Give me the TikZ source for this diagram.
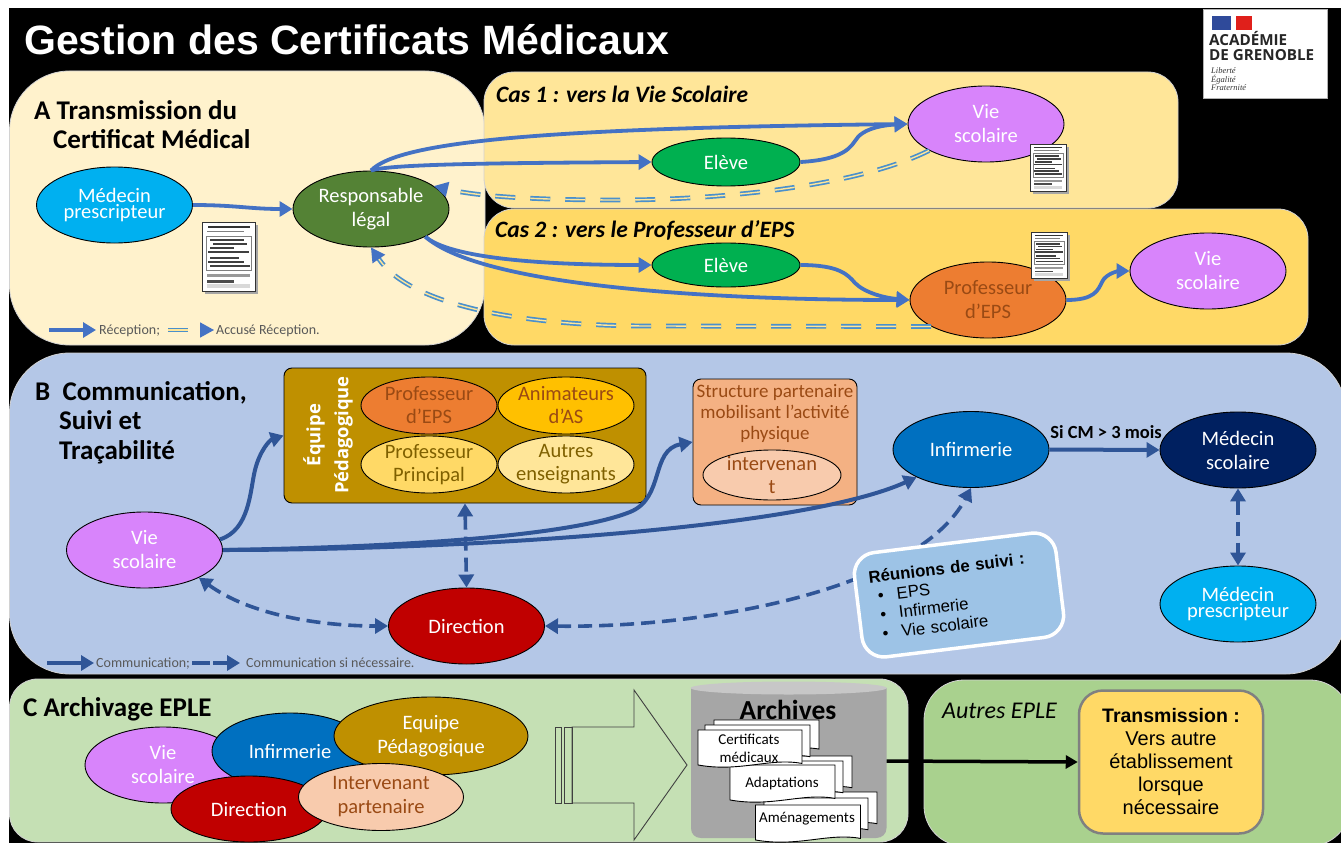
\documentclass[tikz,border=0pt]{standalone}
\usepackage{fontspec}
\setmainfont{Carlito}
\newfontfamily\arialf{Liberation Sans}
\newfontfamily\opensf{Open Sans}
\newfontfamily\serf{Liberation Serif}
\usetikzlibrary{arrows.meta,shapes.geometric}
\definecolor{cA}{HTML}{FFF2CC}
\definecolor{cCasA}{HTML}{FFE699}
\definecolor{cCasB}{HTML}{FFD966}
\definecolor{cB}{HTML}{B4C7E7}
\definecolor{cC}{HTML}{C5E0B4}
\definecolor{cD}{HTML}{A9D18E}
\definecolor{vie}{HTML}{D884FB}
\definecolor{ciel}{HTML}{00B0F0}
\definecolor{resp}{HTML}{548235}
\definecolor{elev}{HTML}{00B050}
\definecolor{oran}{HTML}{ED7D31}
\definecolor{ocre}{HTML}{BF9000}
\definecolor{ambre}{HTML}{FFC000}
\definecolor{bleu}{HTML}{0070C0}
\definecolor{nuit}{HTML}{002060}
\definecolor{rouge}{HTML}{C00000}
\definecolor{sau}{HTML}{F4B183}
\definecolor{sauc}{HTML}{F8CBAD}
\definecolor{lignA}{HTML}{4472C4}
\definecolor{lignD}{HTML}{4A90CC}
\definecolor{lignB}{HTML}{2F5597}
\definecolor{brun}{HTML}{9A4A14}
\definecolor{brunb}{HTML}{7F6000}
\definecolor{reun}{HTML}{9DC3E6}
\definecolor{flagb}{HTML}{2F4A9A}
\definecolor{flagr}{HTML}{E0201B}
\tikzset{
 panel/.style={draw=gray!35,line width=.8pt},
 bub/.style={ellipse,draw=black,line width=.9pt,inner sep=-15pt,align=center,minimum width=156pt,minimum height=76pt,text=white,font=\fontsize{20.5}{24}\selectfont},
 tight/.style={font=\fontsize{20.5}{16}\selectfont},
 small/.style={minimum width=136pt,minimum height=57pt,font=\fontsize{20.5}{23}\selectfont},
 head/.style={anchor=base west,font=\fontsize{27}{30}\selectfont\bfseries,inner sep=0pt},
 cas/.style={anchor=base west,font=\fontsize{23.5}{26}\selectfont\bfseries\itshape,inner sep=0pt},
 leg/.style={anchor=base west,inner sep=0pt,text=black!65,font=\fontsize{14}{16}\selectfont},
 recv/.style={draw=lignA,line width=3.8pt,-{Triangle[length=13pt,width=15pt]}},
 ack/.style={draw=lignD,line width=1.7pt,double=cCasA,double distance=1.4pt,dash pattern=on 20pt off 15pt,-{Triangle[length=14pt,width=15pt,color=lignA]}},
 com/.style={draw=lignB,line width=4pt,-{Triangle[length=13pt,width=15pt]}},
 comd/.style={draw=lignB,line width=3.6pt,dash pattern=on 14pt off 7pt,{Triangle[length=13pt,width=15pt]}-{Triangle[length=13pt,width=15pt]}},
 sheettxt/.style={inner sep=0pt,align=center,text=black,font=\fontsize{15}{18}\selectfont},
 lgtxt/.style={anchor=base west,inner sep=0pt,font=\fontsize{15.2}{16}\selectfont\opensf\bfseries,text=black!85},
 lgdev/.style={anchor=base west,inner sep=0pt,font=\fontsize{8.5}{9}\selectfont\serf\itshape,text=black!80},
}
\newcommand\thumbdoc[4]{%
 \fill[black!35] (#1+2.5,#2+2.5) rectangle (#1+#3+2.5,#2+#4+2.5);
 \begin{scope}[shift={(#1,#2)},x=#3pt,y=-#4pt]
  \draw[fill=white,draw=black!80,line width=1pt] (0,0) rectangle (1,1);
  \fill[black!80] (.12,.06) rectangle (.9,.09);
  \fill[black!50] (.1,.13) rectangle (.8,.15);
  \draw[black!50,line width=.5pt] (.08,.2) rectangle (.92,.7);
  \foreach \yy/\xa/\xb in {.24/.15/.8,.3/.2/.85,.36/.15/.6,.42/.12/.88,.5/.15/.7,.56/.12/.8,.62/.15/.9}{
    \fill[black!75] (\xa,\yy) rectangle (\xb,\yy+.035);}
  \fill[black!40] (.1,.76) rectangle (.9,.8);
  \fill[black!70] (.1,.84) rectangle (.6,.88);
  \fill[black!15] (.1,.9) rectangle (.9,.96);
 \end{scope}}
\newcommand\sheet[4]{%
 \begin{scope}[shift={(#1,#2)},x=#3pt,y=-#4pt]
  \draw[fill=white,draw=black,line width=.9pt] (0,0) -- (1,0) -- (1,.88) .. controls (.7,.72) and (.4,1.12) .. (0,.92) -- cycle;
 \end{scope}}
\begin{document}
\begin{tikzpicture}[x=1pt,y=-1pt]
\useasboundingbox (0,0) rectangle (1341,843);
\fill[white] (0,0) rectangle (1341,843);
\fill[black] (8.5,8) rectangle (1341,843);
% panels
\draw[panel,fill=cA,rounded corners=60pt] (9.5,71) rectangle (485,345);
\draw[panel,fill=cCasA,rounded corners=30pt] (484,72) rectangle (1178,208);
\draw[panel,fill=cCasB,rounded corners=30pt] (484,209) rectangle (1308,345);
\draw[panel,fill=cB,rounded corners=60pt] (9.5,353) rectangle (1346,674);
\draw[panel,fill=cC,rounded corners=28pt] (9.5,679) rectangle (908,842);
\draw[panel,fill=cD,rounded corners=40pt] (924,680) rectangle (1350,846);
% title
\node[anchor=base west,inner sep=0pt,text=white,font=\fontsize{41}{44}\selectfont\arialf\bfseries] (titre) at (24,55) {Gestion des Certificats Médicaux};
% logo
\node[draw=gray!60,fill=white,minimum width=124pt,minimum height=89pt,inner sep=0pt] (logo) at (1265,54) {};
\fill[flagb] (1212,16) rectangle (1231,30);
\fill[flagr] (1236,16) rectangle (1252,30);
\node[lgtxt] (lgA) at (1209,46) {ACADÉMIE};
\node[lgtxt] (lgB) at (1209,60) {DE GRENOBLE};
\node[lgdev] (lgC) at (1211,74) {Liberté};
\node[lgdev] (lgD) at (1211,82) {Égalité};
\node[lgdev] (lgE) at (1211,91) {Fraternité};
% headings
\node[head] (hA1) at (34,119) {A Transmission du};
\node[head] (hA2) at (53,148) {Certificat Médical};
\node[cas] (cas1) at (496,102) {Cas 1 : vers la Vie Scolaire};
\node[cas] (cas2) at (495,237) {Cas 2 : vers le Professeur d’EPS};
\node[head] (hB1) at (35,400) {B\ \ Communication,};
\node[head] (hB2) at (59,429) {Suivi et};
\node[head] (hB3) at (59,459) {Traçabilité};
\node[head] (hC) at (23,716) {C Archivage EPLE};
\node[anchor=base west,inner sep=0pt,font=\fontsize{24}{26}\selectfont\itshape] (autres) at (942,718) {Autres EPLE};
% section A nodes
\node[bub,tight,fill=ciel] (medA) at (114.5,205) {Médecin\\prescripteur};
\node[bub,fill=resp] (resp) at (371,209) {Responsable\\légal};
\node[bub,fill=elev,minimum width=148pt,minimum height=48pt] (eleA) at (726,162) {Elève};
\node[bub,fill=vie] (vieA) at (986,124) {Vie\\scolaire};
\node[bub,fill=elev,minimum width=148pt,minimum height=44pt] (eleB) at (726,265) {Elève};
\node[bub,fill=oran,text=brun] (proA) at (988,300) {Professeur\\d’EPS};
\node[bub,fill=vie] (vieB) at (1208,271) {Vie\\scolaire};
% section A connectors
\coordinate (mA) at (855,141);
\coordinate (mB) at (855,283);
\coordinate (mC) at (1102,282);
\coordinate (mD) at (650,326);
\draw[recv] (medA.east) .. controls (235,205) and (250,209) .. (resp.west);
\draw[recv] (resp.north) .. controls (400,140) and (560,128) .. (vieA.west);
\draw[recv] (resp.north) .. controls (390,164) and (500,163) .. (eleA.west);
\draw[recv] (eleA.east) .. controls (835,160) and (848,152) .. (mA) .. controls (862,128) and (885,125) .. (vieA.west);
\draw[ack] (vieA.205) .. controls (850,190) and (700,200) .. (620,200) .. controls (540,200) and (480,197) .. (resp.20);
\draw[recv] (resp.333) .. controls (450,258) and (540,265) .. (eleB.west);
\draw[recv] (resp.333) .. controls (480,285) and (700,300) .. (proA.west);
\draw[recv] (eleB.east) .. controls (840,265) and (848,275) .. (mB) .. controls (865,293) and (885,298) .. (proA.west);
\draw[recv] (proA.east) .. controls (1095,300) and (1098,290) .. (mC) .. controls (1106,273) and (1120,271) .. (vieB.west);
\draw[ack] (proA.205) -- (mD) .. controls (520,326) and (410,305) .. (resp.south);
\thumbdoc{202}{222}{53}{69}
\thumbdoc{1030}{144}{36}{47}
\thumbdoc{1031}{232}{36}{46}
% legend A
\coordinate (lA1) at (49,330); \coordinate (lA2) at (96,330);
\coordinate (lA3) at (168,330); \coordinate (lA4) at (214,330);
\draw[recv,line width=4pt] (lA1) -- (lA2);
\node[leg] (tA1) at (99,334) {Réception;};
\draw[ack,dash pattern=on 20pt off 14pt] (lA3) -- (lA4);
\node[leg] (tA2) at (216,334) {Accusé Réception.};
% section B nodes
\node[draw=black,line width=.9pt,fill=ocre,rounded corners=8pt,minimum width=362pt,minimum height=135pt,inner sep=0pt] (equipe) at (465,435.5) {};
\node[rotate=90,align=center,inner sep=0pt,text=white,font=\fontsize{18.4}{28}\selectfont\opensf\bfseries] (eqt) at (328,435) {Équipe\\Pédagogique};
\node[bub,small,fill=oran,text=brun] (e1) at (429,405.5) {Professeur\\d’EPS};
\node[bub,small,fill=ambre,text=brun] (e2) at (566,405.5) {Animateurs\\d’AS};
\node[bub,small,fill=cCasB,text=brunb] (e3) at (429,464.5) {Professeur\\Principal};
\node[bub,small,fill=cCasA,text=brunb] (e4) at (566,464.5) {Autres\\enseignants};
\node[draw=black,line width=.9pt,fill=sau,rounded corners=8pt,minimum width=164pt,minimum height=126pt,inner sep=0pt] (struct) at (775,442) {};
\node[align=center,inner sep=0pt,text=brun,font=\fontsize{19}{21}\selectfont] (strt) at (775,413) {Structure partenaire\\mobilisant l’activité\\physique};
\node[bub,fill=sauc,text=brun,minimum width=138pt,minimum height=50pt,font=\fontsize{20.5}{23}\selectfont] (interv) at (772,475) {intervenan\\t};
\node[bub,fill=vie] (vieC) at (144.5,550) {Vie\\scolaire};
\node[bub,fill=rouge] (dir) at (466.5,626) {Direction};
\node[bub,fill=bleu] (inf) at (971,449.5) {Infirmerie};
\node[bub,fill=nuit] (medS) at (1238,450) {Médecin\\scolaire};
\node[bub,tight,fill=ciel] (medB) at (1238,604) {Médecin\\prescripteur};
% section B connectors
\coordinate (nA) at (255,470);
\draw[com] (vieC.8) .. controls (250,530) and (250,490) .. (nA) .. controls (260,450) and (270,440) .. (equipe.west);
\coordinate (nB) at (630,512);
\draw[com] (vieC.east) .. controls (350,548) and (560,540) .. (nB) .. controls (665,498) and (650,450) .. (struct.west);
\draw[com] (vieC.east) .. controls (450,550) and (800,530) .. (inf.207);
\draw[comd] (equipe.south) -- (dir.north);
\draw[comd] (vieC.333) .. controls (250,615) and (320,626) .. (dir.west);
\draw[comd] (dir.east) .. controls (720,628) and (920,585) .. (inf.south);
\draw[com] (inf.east) -- (medS.west);
\node[inner sep=0pt,text=black,font=\fontsize{18.5}{20}\selectfont\bfseries] (si) at (1106,432) {Si CM > 3 mois};
\draw[comd] (medS.south) -- (medB.north);
\node[draw=white,line width=3.5pt,fill=reun,rounded corners=22pt,rotate=7,minimum width=203pt,minimum height=105pt,inner sep=0pt,align=left,font=\fontsize{16.8}{19}\selectfont\arialf,text width=175pt] (reu) at (959,595) {{\bfseries Réunions de suivi :}\\\hspace*{7pt}•\hspace{13pt}EPS\\\hspace*{7pt}•\hspace{13pt}Infirmerie\\\hspace*{7pt}•\hspace{13pt}Vie scolaire};
% legend B
\coordinate (lB1) at (47,663); \coordinate (lB2) at (94,663);
\coordinate (lB3) at (192,663); \coordinate (lB4) at (240,663);
\draw[com] (lB1) -- (lB2);
\node[leg] (tB1) at (96,667) {Communication;};
\draw[com,dash pattern=on 18pt off 3pt on 30pt off 0pt] (lB3) -- (lB4);
\node[leg] (tB2) at (246,667) {Communication si nécessaire.};
% section C
\node[bub,fill=vie] (vieD) at (163,765) {Vie\\scolaire};
\node[bub,fill=bleu] (infD) at (290,751) {Infirmerie};
\node[bub,fill=ocre,minimum width=194pt,minimum height=78pt] (eqD) at (431,736) {Equipe\\Pédagogique};
\node[bub,fill=rouge,minimum height=66pt] (dirD) at (249,809) {Direction};
\node[bub,fill=sauc,text=brun,minimum width=165pt,minimum height=67pt] (intD) at (381,797) {Intervenant\\partenaire};
% big outline arrow
\draw[draw=black!75,line width=.9pt] (572,727) -- (634,727) -- (634,690) -- (687,765) -- (634,840) -- (634,803) -- (572,803) -- cycle;
\draw[draw=black!75,line width=.9pt] (555,727) rectangle (561.5,803);
\draw[draw=black!75,line width=.9pt] (564,727) rectangle (572,803);
% cylinder
\fill[black!35] (691,688) -- (691,828) .. controls (691,834) and (695,838) .. (701,838) -- (876,838) .. controls (882,838) and (886.5,834) .. (886.5,828) -- (886.5,688) -- cycle;
\fill[black!22] (788.7,688) ellipse [x radius=98,y radius=6.5];
\coordinate (arch) at (886.5,761);
\node[inner sep=0pt,font=\fontsize{27.5}{30}\selectfont\bfseries] (archt) at (788,710) {Archives};
\sheet{772}{792}{105}{36}
\sheet{764}{798}{104}{36}
\sheet{755.5}{805}{105}{38}
\node[sheettxt] (s3) at (807,819) {Aménagements};
\sheet{748}{756}{104}{36}
\sheet{739}{761}{104}{36}
\sheet{730}{765}{105}{38}
\node[sheettxt] (s2) at (782,783) {Adaptations};
\sheet{714}{720}{105}{33}
\sheet{705}{725}{105}{36}
\sheet{698}{730}{104}{38}
\node[sheettxt] (s1) at (749,748) {Certificats\\médicaux};
% transmission
\node[draw=black!50,line width=2.5pt,fill=cCasB,rounded corners=24pt,minimum width=184pt,minimum height=143pt,inner sep=0pt,align=center,font=\fontsize{20}{23}\selectfont\arialf] (trans) at (1171,762) {{\fontsize{19.5}{23}\selectfont\bfseries Transmission :}\\Vers autre\\établissement\\lorsque\\nécessaire};
\draw[black,line width=3.5pt,-{Triangle[length=12pt,width=13pt]}] (arch) -- (trans.west);
\end{tikzpicture}
\end{document}
